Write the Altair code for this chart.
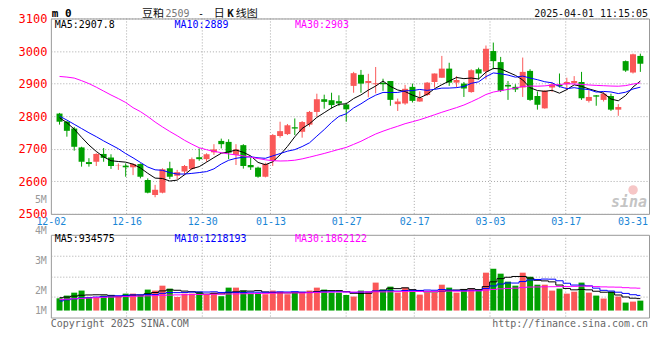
import altair as alt
import pandas as pd

# ---------------- data ----------------
dates = ["12-02","12-03","12-04","12-05","12-06","12-09","12-10","12-11","12-12","12-13",
         "12-16","12-17","12-18","12-19","12-20","12-23","12-24","12-25","12-26","12-27",
         "12-30","12-31","01-02","01-03","01-06","01-07","01-08","01-09","01-10","01-13",
         "01-14","01-15","01-16","01-17","01-20","01-21","01-22","01-23","01-24","01-27",
         "02-05","02-06","02-07","02-10","02-11","02-12","02-13","02-14","02-17","02-18",
         "02-19","02-20","02-21","02-24","02-25","02-26","02-27","02-28","03-03","03-04",
         "03-05","03-06","03-07","03-10","03-11","03-12","03-13","03-14","03-17","03-18",
         "03-19","03-20","03-21","03-24","03-25","03-26","03-27","03-28","03-31","04-01"]

opens = [2808,2783,2762,2704,2659,2660,2684,2673,2647,2648, 2643,2653,2604,2558,2565,2640,2617,2630,2638,2674,
         2668,2689,2724,2721,2681,2711,2650,2642,2614,2663, 2739,2745,2766,2752,2774,2813,2852,2849,2846,2836,
         2893,2927,2902,2898,2902,2908,2837,2839,2890,2845, 2865,2905,2918,2946,2903,2900,2874,2944,2937,3000,
         2966,2896,2890,2888,2939,2862,2824,2888,2896,2898, 2902,2905,2847,2864,2850,2862,2820,2969,2934,2985]
highs = [2810,2785,2767,2706,2671,2686,2702,2683,2655,2655, 2655,2655,2609,2589,2640,2660,2635,2650,2673,2701,
         2686,2714,2731,2729,2714,2714,2673,2645,2657,2745, 2783,2776,2793,2785,2816,2869,2866,2872,2864,2841,
         2936,2942,2930,2951,2915,2908,2854,2896,2900,2876, 2905,2931,2985,2964,2923,2905,2944,2949,3017,3026,
         2982,2908,2898,2980,2944,2876,2880,2903,2931,2918, 2923,2936,2880,2865,2874,2869,2837,2971,2992,2992]
lows = [2774,2737,2694,2645,2645,2647,2660,2638,2635,2614, 2619,2609,2563,2551,2563,2607,2607,2619,2635,2663,
        2660,2681,2701,2668,2650,2639,2635,2611,2612,2647, 2734,2742,2742,2734,2768,2798,2823,2823,2831,2783,
        2872,2872,2858,2870,2878,2832,2816,2835,2842,2844, 2862,2888,2918,2893,2888,2859,2872,2913,2913,2944,
        2874,2850,2874,2859,2847,2820,2823,2874,2888,2880, 2898,2850,2842,2832,2845,2816,2801,2936,2931,2936]
closes = [2783,2755,2706,2660,2653,2684,2672,2647,2648,2643, 2653,2614,2565,2574,2637,2614,2628,2647,2668,2668,
          2683,2698,2714,2688,2698,2647,2643,2614,2653,2742, 2754,2772,2762,2782,2813,2852,2844,2834,2839,2821,
          2932,2900,2908,2901,2898,2850,2845,2884,2847,2856, 2903,2931,2946,2903,2911,2885,2941,2931,3007,2969,
          2878,2891,2882,2936,2850,2835,2878,2898,2892,2905, 2908,2855,2859,2860,2869,2820,2828,2940,2990,2961]
# volume in millions
volumes = [1.00,1.22,1.46,1.63,1.06,1.06,1.22,1.22,1.11,1.38, 1.38,1.27,1.71,1.63,2.03,1.79,1.11,1.38,1.38,1.54,
           1.27,1.46,1.17,1.87,1.87,1.63,1.38,1.38,1.33,1.63, 1.54,1.33,1.46,1.46,1.63,1.87,1.71,1.46,1.46,1.27,
           1.14,1.63,1.54,2.28,1.71,1.95,1.46,1.87,1.54,1.30, 1.46,1.46,2.11,1.87,1.46,1.71,1.79,1.71,3.09,3.41,
           3.01,2.36,2.03,3.09,2.76,2.11,2.11,1.63,1.79,1.38, 1.54,2.28,1.46,1.22,0.98,1.54,1.14,0.65,0.73,0.81]

# moving-average values at the left edge (need history before the window)
ma5_head = [2795, 2780, 2760, 2735]
ma10_head = [2800, 2788, 2775, 2762, 2749, 2737, 2724, 2712, 2700]
ma30_head = [2922,2920,2917,2909,2900,2889,2877,2865,2854,2842,2826,2814,2799,2782,2767,2753,2740,2726,2714,
             2703,2697,2692,2688,2684,2681,2678,2674,2670,2666]
vma5_head = [1.05, 1.10, 1.18, 1.25]
vma10_head = [0.78, 0.88, 0.96, 1.02, 1.06, 1.10, 1.14, 1.18, 1.21]
vma30_head = [0.90,0.93,0.96,0.99,1.02,1.05,1.08,1.10,1.12,1.14,1.16,1.18,1.20,1.22,1.24,1.26,1.28,1.29,
              1.30,1.31,1.32,1.33,1.34,1.35,1.36,1.37,1.38,1.39,1.40]

label_dates = ["12-02","12-16","12-30","01-13","01-27","02-17","03-03","03-17","03-31"]
price_ticks = [2500, 2600, 2700, 2800, 2900, 3000, 3100]
vol_labels = ["4M", "3M", "2M", "1M"]
price_legend = ["MA5:2907.8", "MA10:2889", "MA30:2903"]
vol_legend = ["MA5:934575", "MA10:1218193", "MA30:1862122"]
title_parts = ["m 0", "豆粕", "2509", "-", "日", "K", "线图"]
timestamp = "2025-04-01 11:15:05"
copyright_text = "Copyright 2025 SINA.COM"
url_text = "http://finance.sina.com.cn"


def moving(values, n, head):
    out = list(head)
    for i in range(len(head), len(values)):
        out.append(sum(values[i - n + 1:i + 1]) / n)
    return out


N = len(dates)
df = pd.DataFrame({
    "idx": list(range(N)), "date": dates, "open": opens, "high": highs, "low": lows,
    "close": closes, "vol": volumes,
    "dir": ["up" if c >= o else "down" for o, c in zip(opens, closes)],
})
ma_p = {"MA5": moving(closes, 5, ma5_head), "MA10": moving(closes, 10, ma10_head),
        "MA30": moving(closes, 30, ma30_head)}
ma_v = {"MA5": moving(volumes, 5, vma5_head), "MA10": moving(volumes, 10, vma10_head),
        "MA30": moving(volumes, 30, vma30_head)}
pma = pd.DataFrame([{"idx": i, "series": k, "value": v} for k, vals in ma_p.items() for i, v in enumerate(vals)])
vma = pd.DataFrame([{"idx": i, "series": k, "value": v} for k, vals in ma_v.items() for i, v in enumerate(vals)])

label_idx = [dates.index(d) for d in label_dates]
grid_df = pd.DataFrame({"pos": label_idx[1:-1]})

# ---------------- styles ----------------
W, H1, H2 = 600, 196, 83
RED, GREEN, BLUE_LBL = "#fa5858", "#00a000", "#1a86d6"
MA_COLORS = {"MA5": "#000000", "MA10": "#0000ff", "MA30": "#ff00ff"}
MONO = "DejaVu Sans Mono"
CJK = "Noto Sans CJK SC"
GRID = "#a8a8a8"
VLO, VHI = -0.57, 6.18
TY = -4.5      # title row offset above the price panel

xs = alt.Scale(domain=[-0.5, N - 0.5], nice=False, zero=False)
xg = alt.Scale(domain=[0, N - 1], nice=False, zero=False)
ys = alt.Scale(domain=[price_ticks[0], price_ticks[-1]], nice=False, zero=False)
vs = alt.Scale(domain=[VLO, VHI], nice=False, zero=False)
color = alt.Color("dir:N", scale=alt.Scale(domain=["up", "down"], range=[RED, GREEN]), legend=None)

yaxis = alt.Axis(values=price_ticks, format="d", title=None, grid=True, gridColor=GRID, gridDash=[1, 2],
                 gridWidth=1, labelColor="#ff0000", labelFont=MONO, labelFontSize=12, labelPadding=4,
                 ticks=False, domain=False, labelFlush=False, labelOverlap=False)
vaxis = alt.Axis(values=[VLO + k * (VHI - VLO) / 4 for k in (1, 2, 3)], title=None, grid=True, gridColor=GRID,
                 gridDash=[1, 2], gridWidth=1, labels=False, ticks=False, domain=False)

lab_expr = " : ".join(f"datum.value == {i} ? '{d}'" for i, d in zip(label_idx, label_dates)) + " : ''"
xaxis = alt.Axis(values=label_idx, labelExpr=lab_expr, title=None, grid=False, ticks=False, domain=False,
                 labelColor=BLUE_LBL, labelFont=MONO, labelFontSize=10, labelPadding=3, orient="bottom",
                 labelFlush=False, labelOverlap=False,
                 labelAlign={"condition": {"test": f"datum.value == {label_idx[-1]}", "value": "right"},
                             "value": "center"},
                 labelOffset={"condition": {"test": f"datum.value == {label_idx[-1]}", "value": 6},
                              "value": 0})

X = alt.X("idx:Q", scale=xs, axis=None)


def txt(s, x, y, size=10, col="#000", align="left", font=MONO, weight="normal", style="normal", baseline="middle"):
    return alt.Chart(pd.DataFrame({"t": [s]})).mark_text(
        align=align, baseline=baseline, fontSize=size, font=font, color=col, fontWeight=weight, fontStyle=style
    ).encode(text="t:N", x=alt.value(x), y=alt.value(y))


# ---------------- price panel ----------------
pbase = alt.Chart(df)
wick = pbase.mark_rule(strokeWidth=1).encode(x=X, y=alt.Y("low:Q", scale=ys, axis=yaxis), y2="high:Q", color=color)
body = pbase.mark_bar(size=6).encode(x=X, y=alt.Y("open:Q", scale=ys, axis=yaxis), y2="close:Q", color=color)
plines = [alt.Chart(pma).transform_filter(f"datum.series == '{k}'").mark_line(color=c, strokeWidth=1).encode(
    x=X, y=alt.Y("value:Q", scale=ys, axis=yaxis)) for k, c in MA_COLORS.items()]

ptexts = [
    txt(price_legend[0], 4, 7, col=MA_COLORS["MA5"]),
    txt(price_legend[1], 124, 7, col=MA_COLORS["MA10"]),
    txt(price_legend[2], 245, 7, col=MA_COLORS["MA30"]),
    txt(title_parts[0], 1, TY, size=11, weight="bold"),
    txt(title_parts[1], 91.5, TY, size=11, font=CJK, col="#111"),
    txt(title_parts[2], 115, TY, size=10, col="#777"),
    txt(title_parts[3], 150.5, TY, size=10, align="center", col="#111"),
    txt(title_parts[4], 163.5, TY, size=11, font=CJK, col="#111"),
    txt(title_parts[5], 177, TY, size=11, weight="bold", col="#111"),
    txt(title_parts[6], 185.5, TY, size=11, font=CJK, col="#111"),
    txt(timestamp, 599, TY, align="right", col="#111"),
    txt("5M", -4, 182, size=10, align="right", col="#999"),
    alt.Chart(pd.DataFrame({"t": [0]})).mark_point(filled=True, size=90, color="#f4b8b8", opacity=0.8).encode(
        x=alt.value(584), y=alt.value(172)),
    txt("sina", 598, 184, size=15, align="right", col="#c4c4c4", weight="bold", style="italic"),
]
vgrid_p = alt.Chart(grid_df).mark_rule(color=GRID, strokeDash=[1, 2], strokeWidth=1).encode(
    x=alt.X("pos:Q", scale=xg, axis=xaxis))
price = alt.layer(vgrid_p, alt.layer(wick, body, *plines, *ptexts)).resolve_scale(x="independent").properties(
    width=W, height=H1)

# ---------------- volume panel ----------------
vbars = pbase.mark_bar(size=6).encode(x=X, y=alt.Y("vol:Q", scale=vs, axis=vaxis), y2=alt.datum(0), color=color)
vlines = [alt.Chart(vma).transform_filter(f"datum.series == '{k}'").mark_line(
    color=c, strokeWidth=1, interpolate="step").encode(x=X, y=alt.Y("value:Q", scale=vs, axis=vaxis))
    for k, c in MA_COLORS.items()]
vlabel_y = {"4M": -4, "3M": 26, "2M": 56, "1M": 76}
vtexts = [txt(lbl, -4, vlabel_y[lbl], align="right", col="#999") for lbl in vol_labels] + [
    txt(vol_legend[0], 4, 4, col=MA_COLORS["MA5"]),
    txt(vol_legend[1], 124, 4, col=MA_COLORS["MA10"]),
    txt(vol_legend[2], 245, 4, col=MA_COLORS["MA30"]),
    txt(copyright_text, 0, 89, col="#666"),
    txt(url_text, 599, 89, align="right", col="#666"),
]
vgrid_v = alt.Chart(grid_df).mark_rule(color=GRID, strokeDash=[1, 2], strokeWidth=1).encode(
    x=alt.X("pos:Q", scale=xg, axis=None))
volume = alt.layer(vgrid_v, alt.layer(vbars, *vlines, *vtexts)).resolve_scale(x="independent").properties(
    width=W, height=H2)

chart = alt.vconcat(price, volume, spacing=21, bounds="flush").properties(
    padding={"left": 9, "top": -1, "right": 2, "bottom": 2}, background="white"
).configure_view(stroke="#999", strokeWidth=1)

chart.save("out.html", embed_options={"renderer": "svg", "actions": False})
